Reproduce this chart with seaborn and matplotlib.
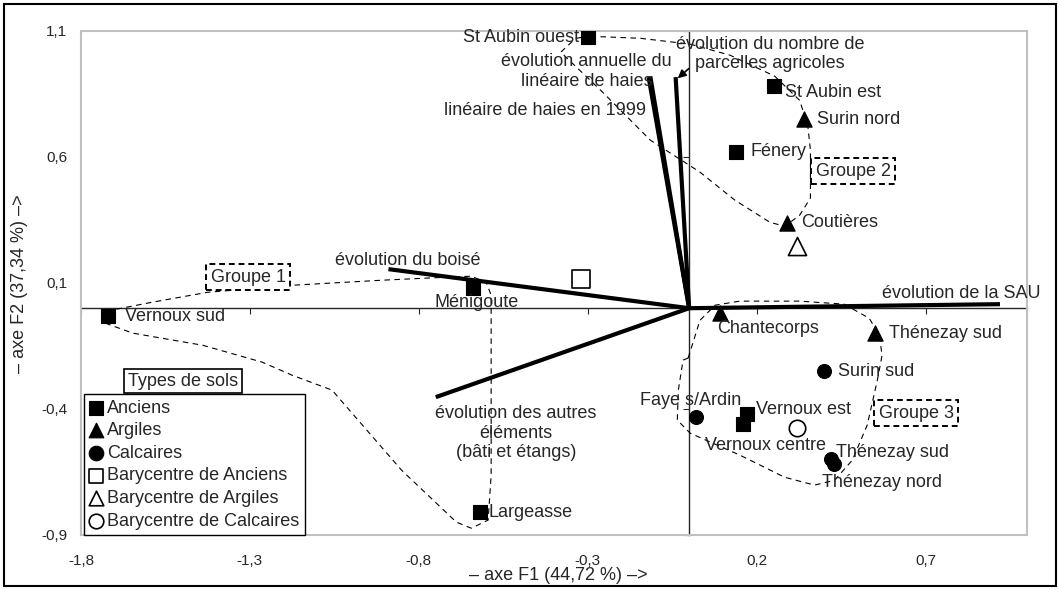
import pandas as pd
import seaborn as sns
import matplotlib.pyplot as plt
from matplotlib.patches import Rectangle

# données (axes F1 / F2 de l'ACP)
anciens_noms = ["St Aubin ouest", "St Aubin est", "Fénery", "Ménigoute",
                "Vernoux sud", "Largeasse", "Vernoux est", "Vernoux centre"]
anciens_f1 = [-0.30, 0.25, 0.14, -0.64, -1.72, -0.62, 0.17, 0.16]
anciens_f2 = [1.075, 0.88, 0.62, 0.08, -0.03, -0.81, -0.42, -0.46]

argiles_noms = ["Surin nord", "Coutières", "Chantecorps", "Thénezay sud"]
argiles_f1 = [0.34, 0.29, 0.09, 0.55]
argiles_f2 = [0.75, 0.34, -0.02, -0.10]

calcaires_noms = ["Surin sud", "Faye s/Ardin", "Thénezay sud", "Thénezay nord"]
calcaires_f1 = [0.40, 0.02, 0.42, 0.43]
calcaires_f2 = [-0.25, -0.43, -0.60, -0.62]

bary_types = ["Anciens", "Argiles", "Calcaires"]
bary_f1 = [-0.32, 0.32, 0.32]
bary_f2 = [0.115, 0.245, -0.475]

vect_noms = ["évolution de la SAU", "évolution du boisé",
             "évolution des autres éléments", "linéaire de haies en 1999",
             "évolution annuelle du linéaire de haies",
             "évolution du nombre de parcelles agricoles"]
vect_f1 = [0.92, -0.89, -0.75, -0.12, -0.115, -0.04]
vect_f2 = [0.016, 0.155, -0.353, 0.917, 0.92, 0.917]

# contours des groupes (tracés à main levée sur l'original)
groupe1_f1 = [-1.735, -1.711, -1.588, -1.426, -1.175, -0.910, -0.719, -0.645, -0.601,
              -0.586, -0.586, -0.595, -0.645, -0.689, -0.851, -1.057, -1.175, -1.264,
              -1.440, -1.647]
groupe1_f2 = [-0.056, -0.008, 0.024, 0.063, 0.091, 0.111, 0.123, 0.127, 0.103,
              0.052, -0.663, -0.841, -0.873, -0.849, -0.643, -0.325, -0.266, -0.214,
              -0.147, -0.099]
groupe2_f1 = [-0.292, -0.144, 0.003, 0.121, 0.253, 0.327, 0.351, 0.359, 0.359,
              0.327, 0.283, 0.239, 0.135, 0.032, -0.115, -0.262, -0.380, -0.336]
groupe2_f2 = [1.079, 1.071, 1.048, 1.004, 0.921, 0.825, 0.726, 0.627, 0.437,
              0.369, 0.325, 0.341, 0.429, 0.540, 0.667, 0.865, 1.016, 1.071]
groupe3_f1 = [-0.003, 0.032, 0.077, 0.150, 0.327, 0.459, 0.533, 0.563, 0.571, 0.557,
              0.527, 0.483, 0.430, 0.371, 0.283, 0.150, 0.003, -0.035, -0.032, -0.018]
groupe3_f2 = [-0.198, -0.048, 0.012, 0.028, 0.028, 0.016, -0.040, -0.107, -0.187, -0.286,
              -0.464, -0.603, -0.683, -0.702, -0.671, -0.583, -0.496, -0.444, -0.325, -0.206]

xticks = [-1.8, -1.3, -0.8, -0.3, 0.2, 0.7]
yticks = [-0.9, -0.4, 0.1, 0.6, 1.1]

sns.set_style("white")
plt.rcParams["font.family"] = ["Liberation Sans", "DejaVu Sans"]
FS = 13

W, H = 1059, 590
fig = plt.figure(figsize=(W / 100, H / 100), dpi=100)
ax = fig.add_axes([81 / W, 1 - 535 / H, 946 / W, 504 / H])
ax.set_xlim(-1.8, 1.0)
ax.set_ylim(-0.9, 1.1)

# contours en pointillés
for gx, gy in [(groupe1_f1, groupe1_f2), (groupe2_f1, groupe2_f2), (groupe3_f1, groupe3_f2)]:
    ax.plot(gx + gx[:1], gy + gy[:1], color="black", lw=0.8, ls=(0, (5, 4)), zorder=2)

# vecteurs des variables
for vx, vy in zip(vect_f1, vect_f2):
    ax.plot([0, vx], [0, vy], color="black", lw=3, solid_capstyle="butt", zorder=3)

# axes passant par l'origine
sx = ax.secondary_xaxis(0, transform=ax.transData)
sx.set_xticks(xticks)
sx.tick_params(direction="out", length=4, width=0.8, labelbottom=False)
sx.spines["bottom"].set_linewidth(1)
sy = ax.secondary_yaxis(0, transform=ax.transData)
sy.set_yticks(yticks)
sy.tick_params(direction="out", length=4, width=0.8, labelleft=False)
sy.spines["left"].set_linewidth(1)

# points
df_a = pd.DataFrame({"F1": anciens_f1, "F2": anciens_f2})
df_r = pd.DataFrame({"F1": argiles_f1, "F2": argiles_f2})
df_c = pd.DataFrame({"F1": calcaires_f1, "F2": calcaires_f2})
df_b = pd.DataFrame({"F1": bary_f1, "F2": bary_f2, "type": bary_types})

sns.scatterplot(data=df_a, x="F1", y="F2", marker="s", s=100, color="black",
                edgecolor="black", label="Anciens", ax=ax, zorder=5)
sns.scatterplot(data=df_r, x="F1", y="F2", marker="^", s=120, color="black",
                edgecolor="black", label="Argiles", ax=ax, zorder=5)
sns.scatterplot(data=df_c, x="F1", y="F2", marker="o", s=100, color="black",
                edgecolor="black", label="Calcaires", ax=ax, zorder=5)
for t, m, s in zip(bary_types, ["s", "^", "o"], [150, 170, 140]):
    sns.scatterplot(data=df_b[df_b["type"] == t], x="F1", y="F2", marker=m, s=s,
                    color="white", edgecolor="black", linewidth=1.2,
                    label="Barycentre de " + t, ax=ax, zorder=5)

# étiquettes des points (décalages en pixels)
anciens_pos = [(-9, 0, "right"), (11, -6, "left"), (14, 0, "left"), (4, -14, "center"),
               (17, -1, "left"), (9, 0, "left"), (9, 5, "left"), (22, -21, "center")]
argiles_pos = [(13, 0, "left"), (14, 0, "left"), (-2, -15, "left"), (14, 0, "left")]
calcaires_pos = [(14, 0, "left"), (-5, 16, "center"), (5, 7, "left"), (-12, -18, "left")]
for noms, xs, ys, pos in [(anciens_noms, anciens_f1, anciens_f2, anciens_pos),
                          (argiles_noms, argiles_f1, argiles_f2, argiles_pos),
                          (calcaires_noms, calcaires_f1, calcaires_f2, calcaires_pos)]:
    for n, x, y, (dx, dy, ha) in zip(noms, xs, ys, pos):
        ax.annotate(n, (x, y), xytext=(dx, dy), textcoords="offset pixels",
                    ha=ha, va="center", fontsize=FS, zorder=6)

# étiquettes des variables
ax.text(1.04, 0.06, "évolution de la SAU", ha="right", va="center", fontsize=FS)
ax.text(-0.834, 0.19, "évolution du boisé", ha="center", va="center", fontsize=FS)
ax.text(-0.513, -0.496, "évolution des autres\néléments\n(bâti et étangs)",
        ha="center", va="center", fontsize=FS)
ax.text(-0.426, 0.786, "linéaire de haies en 1999", ha="center", va="center", fontsize=FS)
ax.text(-0.303, 0.94, "évolution annuelle du\nlinéaire de haies",
        ha="center", va="center", fontsize=FS)
ax.text(0.239, 1.008, "évolution du nombre de\nparcelles agricoles",
        ha="center", va="center", fontsize=FS)
ax.annotate("", xy=(-0.04, 0.905), xytext=(0.005, 0.958),
            arrowprops=dict(arrowstyle="-|>", color="black", lw=1.2, mutation_scale=12))

# groupes
box = dict(boxstyle="square,pad=0.25", fc="white", ec="black", ls=(0, (3, 2)), lw=1.4)
ax.text(-1.305, 0.123, "Groupe 1", ha="center", va="center", fontsize=FS, bbox=box, zorder=4)
ax.text(0.486, 0.544, "Groupe 2", ha="center", va="center", fontsize=FS, bbox=box, zorder=4)
ax.text(0.672, -0.417, "Groupe 3", ha="center", va="center", fontsize=FS, bbox=box, zorder=4)

# légende
leg = ax.legend(loc="lower left", bbox_to_anchor=(0.003, 0.0), fontsize=FS,
                frameon=True, fancybox=False, edgecolor="black", framealpha=1,
                handlelength=0.8, handletextpad=0.2, borderpad=0.3,
                labelspacing=0.31, borderaxespad=0)
leg.get_frame().set_linewidth(1)
leg.set_zorder(7)
for h in leg.legend_handles:
    h.set_sizes([110])
fig.text(183 / W, 1 - 381 / H, "Types de sols", ha="center", va="center", fontsize=FS,
         bbox=dict(boxstyle="square,pad=0.2", fc="white", ec="black", lw=1.2))

# cadre et graduations
ax.set_xticks(xticks)
ax.set_xticklabels([f"{v:.1f}".replace(".", ",") for v in xticks])
ax.set_yticks(yticks)
ax.set_yticklabels([f"{v:.1f}".replace(".", ",") for v in yticks])
ax.tick_params(length=0, labelsize=11)
ax.tick_params(axis="x", pad=14)
ax.tick_params(axis="y", pad=10)
for sp in ax.spines.values():
    sp.set_color("#c0c0c0")
    sp.set_linewidth(1.5)
ax.set_xlabel("")
ax.set_ylabel("")

fig.text(558 / W, 1 - 575 / H, "– axe F1 (44,72 %) –>", ha="center", va="center", fontsize=FS)
fig.text(20 / W, 1 - 284 / H, "– axe F2 (37,34 %) –>", ha="center", va="center",
         rotation=90, fontsize=FS)

fig.add_artist(Rectangle((4 / W, 4 / H), 1052 / W, 582 / H, transform=fig.transFigure,
                         fill=False, ec="black", lw=1.5))

fig.savefig("out.png", dpi=100)
